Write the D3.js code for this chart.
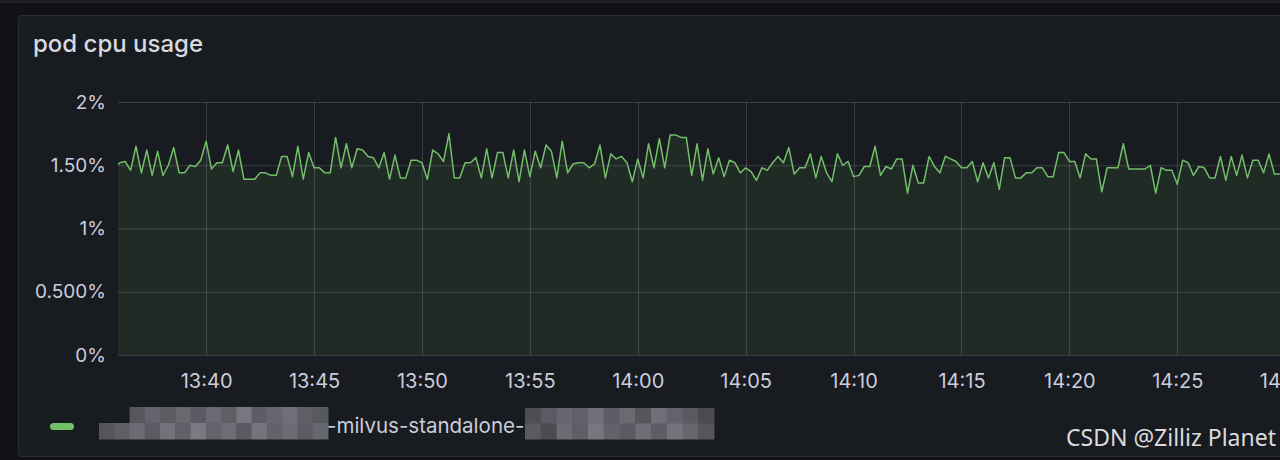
<!DOCTYPE html>
<html><head><meta charset="utf-8">
<script src="https://cdn.jsdelivr.net/npm/d3@7/dist/d3.min.js"></script>
<style>
html,body{margin:0;padding:0;background:#111217;overflow:hidden;}
svg{display:block;font-family:Inter,"Noto Sans",sans-serif;}
</style></head><body>
<svg id="chart" width="1280" height="460"></svg>
<script>
const chartTitle = "pod cpu usage";
const startTime = "2023-01-01T13:35:45";
const stepSeconds = 15;
const cpuValues = [
1.48,1.52,1.53,1.46,1.65,1.44,1.62,1.42,1.61,1.42,
1.50,1.64,1.44,1.44,1.50,1.49,1.54,1.69,1.47,1.52,
1.52,1.66,1.45,1.62,1.39,1.39,1.39,1.44,1.44,1.42,
1.42,1.57,1.57,1.41,1.65,1.39,1.60,1.48,1.48,1.44,
1.44,1.72,1.48,1.67,1.48,1.63,1.62,1.57,1.56,1.48,
1.60,1.39,1.58,1.40,1.40,1.54,1.54,1.52,1.39,1.62,
1.59,1.53,1.75,1.40,1.40,1.52,1.52,1.56,1.40,1.63,
1.40,1.60,1.60,1.40,1.62,1.37,1.62,1.41,1.61,1.48,
1.66,1.61,1.40,1.69,1.44,1.51,1.52,1.52,1.48,1.51,
1.66,1.40,1.59,1.55,1.57,1.52,1.37,1.55,1.40,1.67,
1.48,1.71,1.48,1.74,1.74,1.72,1.72,1.42,1.67,1.38,
1.63,1.43,1.56,1.41,1.54,1.52,1.44,1.48,1.45,1.38,
1.48,1.46,1.52,1.57,1.52,1.64,1.43,1.48,1.48,1.59,
1.40,1.57,1.44,1.37,1.59,1.50,1.53,1.41,1.42,1.49,
1.49,1.65,1.42,1.49,1.47,1.55,1.55,1.28,1.50,1.36,
1.36,1.57,1.49,1.44,1.57,1.55,1.53,1.48,1.48,1.53,
1.37,1.52,1.40,1.52,1.31,1.56,1.56,1.40,1.40,1.44,
1.44,1.48,1.48,1.41,1.41,1.60,1.60,1.53,1.53,1.40,
1.59,1.55,1.55,1.29,1.48,1.48,1.48,1.67,1.47,1.47,
1.47,1.47,1.50,1.28,1.48,1.46,1.46,1.35,1.54,1.52,
1.42,1.49,1.48,1.40,1.40,1.57,1.38,1.57,1.42,1.58,
1.40,1.54,1.54,1.44,1.59,1.43,1.43
];
const yTickValues = [0, 0.5, 1, 1.5, 2];
const yTickLabels = ["0%", "0.500%", "1%", "1.50%", "2%"];
const xTickLabels = ["13:40","13:45","13:50","13:55","14:00","14:05","14:10","14:15","14:20","14:25","14:30"];
const legendLabel = "-milvus-standalone-";
const watermark = "CSDN @Zilliz Planet";
// redaction mosaic shades (two rows per block)
const mosaicA = [
 [null,null,"#56565e","#64646c","#5c5c64","#68686f","#5a5a62","#6a6a72","#5f5f67","#77777f","#5d5d65","#66666e","#707078","#5e5e66","#58585f"],
 ["#55555c","#5f5f67","#6a6a72","#5b5b63","#72727a","#606068","#7a7a82","#63636b","#6d6d75","#5a5a62","#74747c","#62626a","#6b6b73","#5c5c64","#66666e"]
];
const mosaicB = [
 ["#4e4e55","#5b5b63","#66666e","#60606a","#71717a","#5d5d65","#6a6a72","#55555c","#6f6f77","#63636b","#5a5a62","#4a4a50"],
 ["#5a5a62","#4b4b52","#6c6c74","#5e5e66","#77777f","#62626a","#5a5a62","#6e6e76","#5d5d65","#73737b","#66666e","#55555c"]
];

const svg = d3.select("#chart");
const W = 1280, H = 460;
const plot = {left: 118, right: 1287, top: 102, bottom: 355};

// outer / panels
svg.append("rect").attr("x",0).attr("y",0).attr("width",W).attr("height",H).attr("fill","#111217");
svg.append("rect").attr("x",-10).attr("y",-30).attr("width",W+40).attr("height",32)
  .attr("rx",3).attr("fill","#181b1f").attr("stroke","#2c2e33");
svg.append("rect").attr("x",18.5).attr("y",15.5).attr("width",1300).attr("height",441)
  .attr("rx",3).attr("fill","#181b1f").attr("stroke","#2c2e33");

svg.append("text").attr("x",33).attr("y",52).attr("fill","#d8d9de")
  .attr("font-size",24).attr("font-weight",500).text(chartTitle);

const parseT = d3.timeParse("%Y-%m-%dT%H:%M:%S");
const t0 = parseT(startTime);
const series = cpuValues.map((v,i)=>({t:new Date(t0.getTime()+i*stepSeconds*1000), v}));

const x = d3.scaleTime()
  .domain([parseT("2023-01-01T13:35:55"), parseT("2023-01-01T14:30:05")])
  .range([plot.left, plot.right]);
const y = d3.scaleLinear().domain([0,2]).range([plot.bottom, plot.top]);

const parseHM = d3.timeParse("%Y-%m-%dT%H:%M");
const xTickValues = xTickLabels.map(s=>parseHM("2023-01-01T"+s));

svg.append("clipPath").attr("id","clip").append("rect")
  .attr("x",plot.left).attr("y",0).attr("width",plot.right-plot.left).attr("height",H);

const g = svg.append("g").attr("clip-path","url(#clip)");
// grid
g.selectAll("line.hg").data(yTickValues).join("line")
  .attr("x1",plot.left).attr("x2",plot.right)
  .attr("y1",d=>y(d)+0.5).attr("y2",d=>y(d)+0.5)
  .attr("stroke","#ccccdc").attr("stroke-opacity",0.2);
g.selectAll("line.vg").data(xTickValues).join("line")
  .attr("x1",d=>Math.round(x(d))+0.5).attr("x2",d=>Math.round(x(d))+0.5)
  .attr("y1",plot.top).attr("y2",plot.bottom)
  .attr("stroke","#ccccdc").attr("stroke-opacity",0.2);

const area = d3.area().x(d=>x(d.t)).y0(y(0)).y1(d=>y(d.v));
const line = d3.line().x(d=>x(d.t)).y(d=>y(d.v));
g.append("path").datum(series).attr("d",area).attr("fill","#73bf69").attr("fill-opacity",0.1);
g.append("path").datum(series).attr("d",line).attr("fill","none")
  .attr("stroke","#73bf69").attr("stroke-width",1.5).attr("stroke-linejoin","round");

// axes
const yAxis = d3.axisLeft(y).tickValues(yTickValues)
  .tickFormat((d,i)=>yTickLabels[i]).tickSize(0).tickPadding(12);
const ya = svg.append("g").attr("transform",`translate(${plot.left},0)`).call(yAxis);
ya.select(".domain").remove();
ya.selectAll("text").attr("fill","#ccccdc").attr("font-size",19).attr("font-family","Inter");

const xAxis = d3.axisBottom(x).tickValues(xTickValues)
  .tickFormat((d,i)=>xTickLabels[i]).tickSize(0).tickPadding(19);
const xa = svg.append("g").attr("transform",`translate(0,${plot.bottom})`).call(xAxis);
xa.select(".domain").remove();
xa.selectAll("text").attr("fill","#ccccdc").attr("font-size",20).attr("font-family","Inter");

// legend
svg.append("rect").attr("x",50).attr("y",423).attr("width",24).attr("height",7).attr("rx",3.5).attr("fill","#73bf69");
function mosaic(rows, x0, y0, cw, ch){
  rows.forEach((row,r)=>row.forEach((c,j)=>{
    if(!c) return;
    svg.append("rect").attr("x",x0+j*cw).attr("y",y0+r*ch).attr("width",cw+0.5).attr("height",ch+0.5).attr("fill",c);
  }));
}
mosaic(mosaicA, 99, 407, 229/15, 16);
mosaic(mosaicB, 525, 408, 189/12, 15.5);
svg.append("text").attr("x",327).attr("y",433).attr("fill","#ccccdc")
  .attr("font-size",20.5).text(legendLabel);

svg.append("text").attr("x",1276).attr("y",446).attr("text-anchor","end")
  .attr("fill","#ffffff").attr("fill-opacity",0.85).attr("font-size",23)
  .attr("font-family","Noto Sans, sans-serif").text(watermark);
</script>
</body></html>
